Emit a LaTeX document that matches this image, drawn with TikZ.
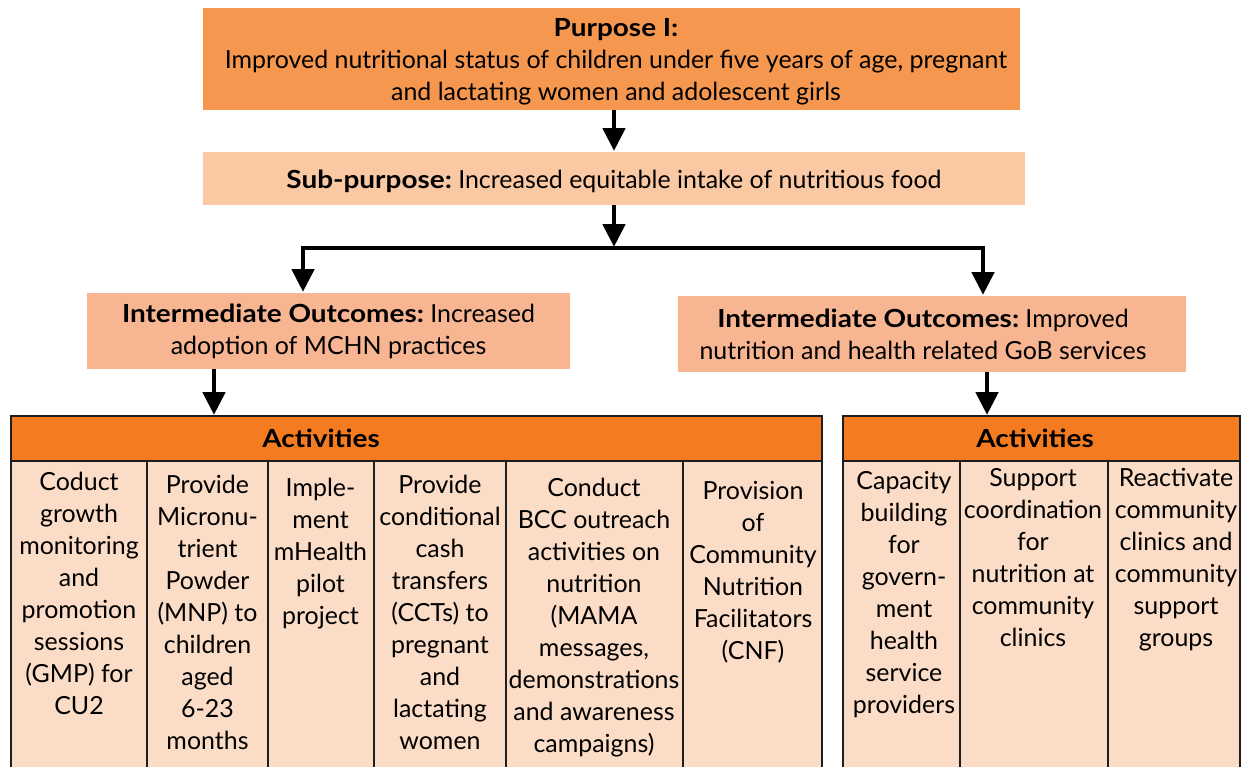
\documentclass[tikz,border=0pt]{standalone}
\usepackage{fontspec}
\usepackage{graphicx}
\setmainfont{Lato}
\usetikzlibrary{arrows.meta}
\definecolor{purp}{HTML}{F6974F}
\definecolor{subp}{HTML}{FAC8A3}
\definecolor{iob}{HTML}{F7B592}
\definecolor{acth}{HTML}{F47B20}
\definecolor{actb}{HTML}{FBDCC6}
\definecolor{edge}{HTML}{1E1E1E}
\newcommand\bt[1]{\scalebox{1.12}[1]{\bfseries #1}}
\begin{document}
\begin{tikzpicture}[x=0.75pt,y=-0.75pt,
  txt/.style={font=\fontsize{18.7}{24}\selectfont, align=center, inner sep=0pt, outer sep=0pt},
  topbox/.style={txt, draw=none},
  hdr/.style={draw=edge, line width=1.2pt, fill=acth, inner sep=0pt, outer sep=0pt},
  body/.style={draw=edge, line width=1.2pt, fill=actb},
  sep/.style={draw=edge, line width=1.2pt},
  cell/.style={txt, anchor=north},
  arr/.style={line width=2.3pt, -{Triangle[width=17pt,length=17pt]}, shorten >=1pt},
  conn/.style={line width=2.3pt, line join=miter, {Triangle[width=17pt,length=17pt]}-{Triangle[width=17pt,length=17pt]}, shorten >=1pt, shorten <=1pt}]
\useasboundingbox (0,0) rectangle (1242,767);
\clip (0,0) rectangle (1242,767);

% top boxes
\node[topbox, fill=purp, minimum width=0.75*817pt, minimum height=0.75*102pt] (purp) at (611.5,59) {};
\node[txt] (purpt) at (616,62)
  {\bt{Purpose I:}\\Improved nutritional status of children under five years of age, pregnant\\and lactating women and adolescent girls};
\node[topbox, fill=subp, minimum width=0.75*822pt, minimum height=0.75*53pt] (sub) at (614,178.5) {};
\node[txt] (subt) at (614,181)
  {\bt{Sub-purpose:} Increased equitable intake of nutritious food};
\node[topbox, fill=iob, minimum width=0.75*483pt, minimum height=0.75*76pt] (io1) at (328.5,331)
  {\bt{Intermediate Outcomes:} Increased\\adoption of MCHN practices};
\node[topbox, fill=iob, minimum width=0.75*508pt, minimum height=0.75*76pt] (io2) at (932,334) {};
\node[txt] (io2t) at (923,334)
  {\bt{Intermediate Outcomes:} Improved\\nutrition and health related GoB services};

% activity tables
\draw[body] (11,461) rectangle (822,790);
\draw[body] (843,461) rectangle (1240,790);
\node[hdr, minimum width=0.75*811pt, minimum height=0.75*45pt] (act1) at (416.5,438.5) {};
\node[hdr, minimum width=0.75*397pt, minimum height=0.75*45pt] (act2) at (1041.5,438.5) {};
\node[txt] (act1t) at (321,438.5) {\bt{Activities}};
\node[txt] (act2t) at (1035,438.5) {\bt{Activities}};
\foreach \x in {147,268,374,506,683}{\draw[sep] (\x,461) -- (\x,790);}
\foreach \x in {960,1108}{\draw[sep] (\x,461) -- (\x,790);}

% cells
\node[cell] (c1) at (79,472) {Coduct\\growth\\monitoring\\and\\promotion\\sessions\\(GMP) for\\CU2};
\node[cell] (c2) at (207.5,475) {Provide\\Micronu-\\trient\\Powder\\(MNP) to\\children\\aged\\6-23\\months};
\node[cell] (c3) at (320.5,478) {Imple-\\ment\\mHealth\\pilot\\project};
\node[cell] (c4) at (440,475) {Provide\\conditional\\cash\\transfers\\(CCTs) to\\pregnant\\and\\lactating\\women};
\node[cell] (c5) at (594,478) {Conduct\\BCC outreach\\activities on\\nutrition\\(MAMA\\messages,\\demonstrations\\and awareness\\campaigns)};
\node[cell] (c6) at (753,481) {Provision\\of\\Community\\Nutrition\\Facilitators\\(CNF)};
\node[cell] (r1) at (904,471) {Capacity\\building\\for\\govern-\\ment\\health\\service\\providers};
\node[cell] (r2) at (1033,468) {Support\\coordination\\for\\nutrition at\\community\\clinics};
\node[cell] (r3) at (1176,468) {Reactivate\\community\\clinics and\\community\\support\\groups};

% connectors
\coordinate (jl) at (303,248);
\coordinate (jr) at (983,248);
\coordinate (jm) at (614,248);
\coordinate (d1) at (214,0);
\coordinate (d2) at (987,0);
\draw[arr] (purp.south -| sub.north) -- (sub.north);
\draw[arr] (sub.south) -- (jm);
\draw[conn] (jl |- io1.north) -- (jl) -- (jr) -- (jr |- io2.north);
\draw[arr] (io1.south -| d1) -- (act1.north -| d1);
\draw[arr] (io2.south -| d2) -- (act2.north -| d2);
\end{tikzpicture}
\end{document}
